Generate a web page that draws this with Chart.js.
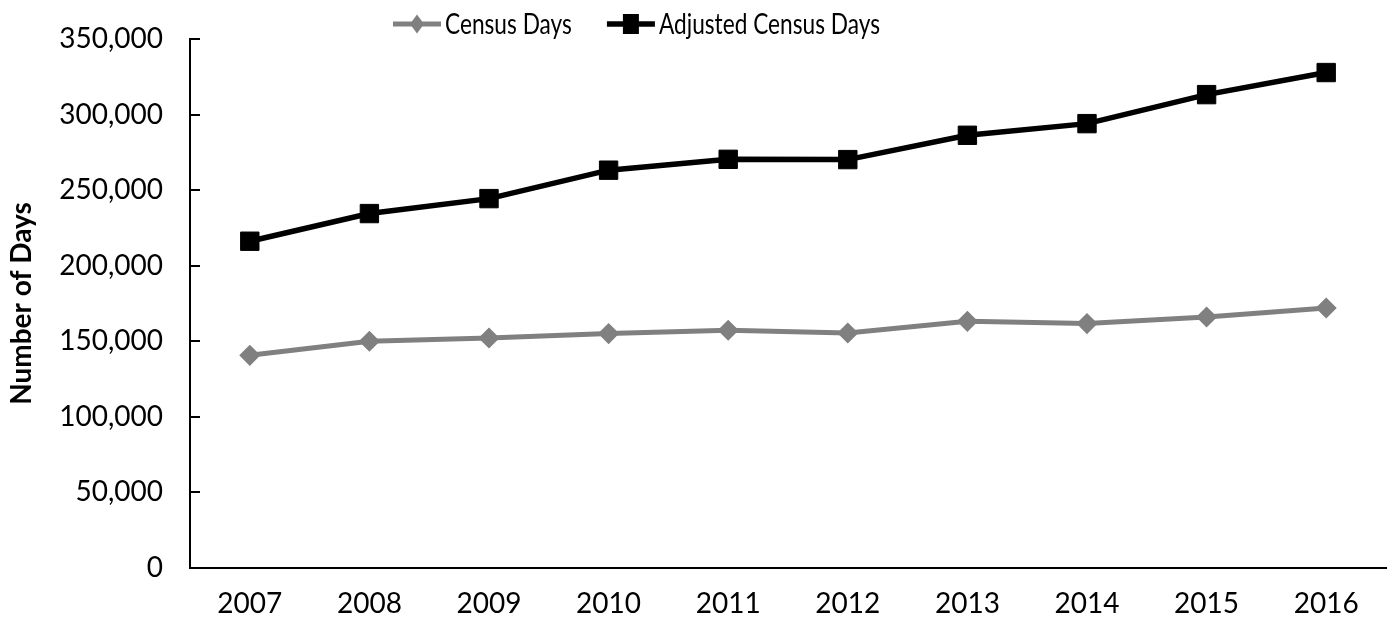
<!DOCTYPE html>
<html>
<head>
<meta charset="utf-8">
<script src="https://cdn.jsdelivr.net/npm/chart.js@4/dist/chart.umd.min.js"></script>
<style>
  html, body { margin: 0; padding: 0; background: #ffffff; }
  #wrap { width: 1392px; height: 618px; position: relative; }
</style>
</head>
<body>
<div id="wrap"><canvas id="c" width="1392" height="618"></canvas></div>
<script>
const years = ['2007', '2008', '2009', '2010', '2011', '2012', '2013', '2014', '2015', '2016'];
const censusDays = [140700, 150000, 152200, 155100, 157300, 155500, 163200, 161700, 166100, 172000];
const adjustedCensusDays = [216200, 234500, 244400, 263200, 270400, 270200, 286300, 294000, 313200, 327800];
const seriesNames = ['Census Days', 'Adjusted Census Days'];
const yAxisTitle = 'Number of Days';

const FONT = 'Lato';
Chart.defaults.font.family = FONT;
Chart.defaults.color = '#000000';

const legendPlugin = {
  id: 'customLegend',
  afterDraw(chart) {
    const ctx = chart.ctx;
    ctx.save();
    ctx.font = '28px ' + FONT;
    ctx.textBaseline = 'middle';
    const squeeze = 0.81;
    const y = 24;
    let x = 393;
    chart.data.datasets.forEach((ds) => {
      const lineW = 48;
      ctx.strokeStyle = ds.borderColor;
      ctx.lineWidth = ds.borderWidth;
      ctx.beginPath();
      ctx.moveTo(x, y);
      ctx.lineTo(x + lineW, y);
      ctx.stroke();
      const cx = x + lineW / 2;
      ctx.fillStyle = ds.pointBackgroundColor;
      ctx.beginPath();
      if (ds.pointStyle === 'rectRot') {
        ctx.moveTo(cx, y - 9.5);
        ctx.lineTo(cx + 7, y);
        ctx.lineTo(cx, y + 9.5);
        ctx.lineTo(cx - 7, y);
        ctx.closePath();
      } else {
        ctx.rect(cx - 8, y - 10, 16, 20);
      }
      ctx.fill();
      ctx.fillStyle = '#000';
      const tx = x + lineW + 4;
      ctx.save();
      ctx.translate(tx, y + 1);
      ctx.scale(squeeze, 1);
      ctx.fillText(ds.label, 0, 0);
      ctx.restore();
      x = tx + ctx.measureText(ds.label).width * squeeze + 35;
    });
    ctx.restore();
  }
};

function noScalePadding(scale) {
  scale.paddingTop = 0;
  scale.paddingBottom = 0;
  scale.paddingLeft = 0;
  scale.paddingRight = 0;
}

new Chart(document.getElementById('c'), {
  type: 'line',
  data: {
    labels: years,
    datasets: [
      {
        label: seriesNames[0],
        data: censusDays,
        borderColor: '#808080',
        backgroundColor: '#808080',
        borderWidth: 5,
        pointStyle: 'rectRot',
        pointRadius: 9.5,
        pointBorderWidth: 1.5,
        pointBackgroundColor: '#808080',
        pointBorderColor: '#808080',
        tension: 0
      },
      {
        label: seriesNames[1],
        data: adjustedCensusDays,
        borderColor: '#000000',
        backgroundColor: '#000000',
        borderWidth: 5.5,
        pointStyle: 'rect',
        pointRadius: 13,
        pointBorderWidth: 1,
        pointBackgroundColor: '#000000',
        pointBorderColor: '#000000',
        tension: 0
      }
    ]
  },
  options: {
    responsive: false,
    animation: false,
    devicePixelRatio: 1,
    layout: { autoPadding: false, padding: { top: 39, left: 0, right: 6, bottom: 0 } },
    plugins: {
      legend: { display: false },
      tooltip: { enabled: false }
    },
    scales: {
      x: {
        offset: true,
        grid: { display: false, drawTicks: false },
        border: { display: true, color: '#000000', width: 2 },
        ticks: { font: { size: 28 }, color: '#000000', padding: 19, maxRotation: 0, autoSkip: false },
        afterFit(scale) { scale.height = 50; noScalePadding(scale); }
      },
      y: {
        min: 0,
        max: 350000,
        ticks: { stepSize: 50000, font: { size: 28 }, color: '#000000', padding: 37 },
        grid: { display: true, drawOnChartArea: false, drawTicks: true, tickLength: -10, color: '#000000', lineWidth: 2 },
        border: { display: true, color: '#000000', width: 2 },
        title: { display: true, text: yAxisTitle, font: { size: 28, weight: 'bold' }, color: '#000000', padding: { top: 5, bottom: 0 } },
        afterFit(scale) { scale.width = 190; noScalePadding(scale); }
      }
    }
  },
  plugins: [legendPlugin]
});
</script>
</body>
</html>
